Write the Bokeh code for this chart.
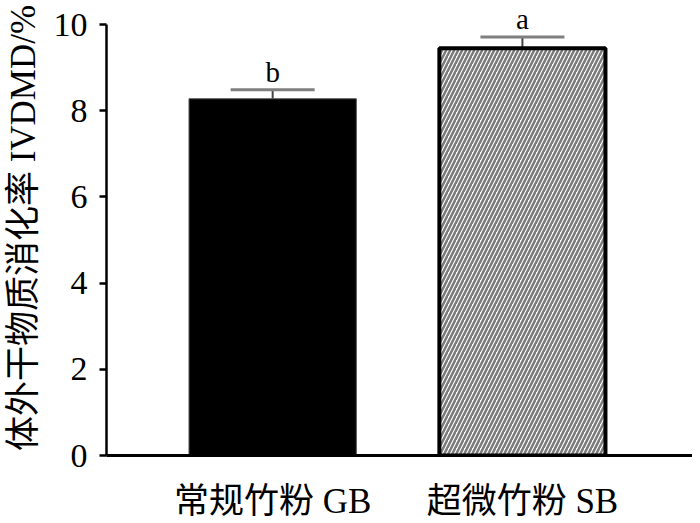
from bokeh.plotting import figure
from bokeh.models import ColumnDataSource, Range1d, FixedTicker, Whisker, TeeHead
from bokeh.core.properties import value
from bokeh.embed import file_html
from bokeh.resources import INLINE

categories = ["常规竹粉 GB", "超微竹粉 SB"]
positions = [1, 2]
means = [8.28, 9.45]
errors = [0.21, 0.26]
letters = ["b", "a"]
yticks = [0, 2, 4, 6, 8, 10]

SERIF = "Liberation Serif, Noto Sans CJK SC"

tops = [m + e for m, e in zip(means, errors)]
src = ColumnDataSource(dict(x=positions, mean=means, top=tops, letter=letters))

p = figure(width=692, height=523, output_backend="svg", toolbar_location=None,
           x_range=Range1d(0.3347, 2.681), y_range=Range1d(0, 10.56),
           min_border_left=103, min_border_right=0, min_border_top=0, min_border_bottom=67)
p.outline_line_color = None
p.grid.visible = False
p.background_fill_color = "white"

# GB bar (black)
p.vbar(x=[positions[0]], top=[means[0]], width=0.67, bottom=0,
       fill_color="black", line_color="#555555", line_width=1)
# SB bar (hatched)
p.vbar(x=[positions[1]], top=[means[1]], width=0.665, bottom=0,
       fill_color="white", line_color="black", line_width=4,
       hatch_pattern="/", hatch_color="#7a7a7a", hatch_scale=8, hatch_weight=2.5)

w = Whisker(source=src, base="x", lower="mean", upper="top", dimension="height",
            line_color="#444444", line_width=2,
            upper_head=TeeHead(size=84, line_color="#7f7f7f", line_width=3),
            lower_head=None)
p.add_layout(w)

p.text(x="x", y="top", text="letter", source=src, text_align="center",
       text_baseline="bottom", y_offset=-2, text_font=value("Liberation Serif"),
       text_font_size="29px", text_color="black")

# Axes
p.yaxis.bounds = (0, 10)
p.yaxis.ticker = FixedTicker(ticks=yticks)
p.yaxis.minor_tick_line_color = None
p.yaxis.major_tick_in = 0
p.yaxis.major_tick_out = 7
p.yaxis.major_tick_line_width = 2.5
p.yaxis.axis_line_width = 2.5
p.yaxis.major_label_text_font = "Liberation Serif"
p.yaxis.major_label_text_font_size = "34px"
p.yaxis.major_label_text_color = "black"
p.yaxis.major_label_standoff = 12
p.yaxis.axis_label = "体外干物质消化率 IVDMD/%"
p.yaxis.axis_label_text_font = SERIF
p.yaxis.axis_label_text_font_size = "35px"
p.yaxis.axis_label_text_font_style = "normal"
p.yaxis.axis_label_text_color = "black"
p.yaxis.axis_label_standoff = 8

p.xaxis.ticker = FixedTicker(ticks=positions)
p.xaxis.major_label_overrides = {pos: c for pos, c in zip(positions, categories)}
p.xaxis.minor_tick_line_color = None
p.xaxis.major_tick_line_color = None
p.xaxis.major_tick_in = 0
p.xaxis.major_tick_out = 0
p.xaxis.axis_line_width = 3
p.xaxis.major_label_text_font = SERIF
p.xaxis.major_label_text_font_size = "35px"
p.xaxis.major_label_text_color = "black"
p.xaxis.major_label_standoff = 26

open("out.html", "w").write(file_html(p, INLINE))
